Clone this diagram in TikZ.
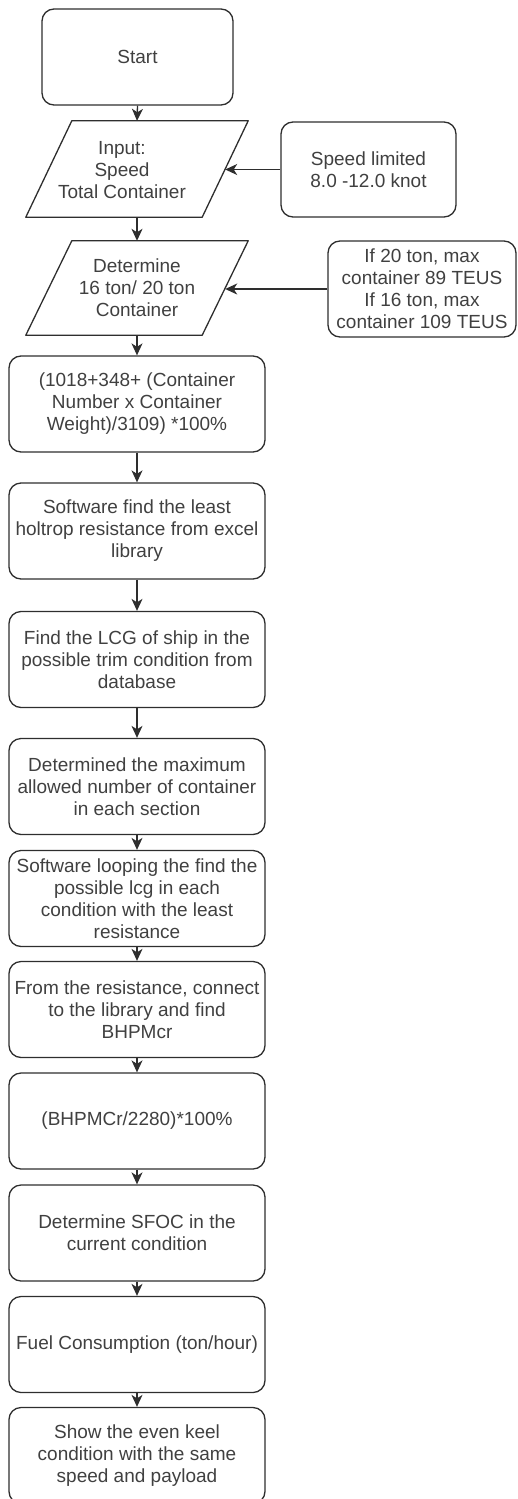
\documentclass[tikz,border=0pt]{standalone}
\usepackage{fontspec}
\setmainfont{Liberation Sans}
\usetikzlibrary{arrows.meta}
\definecolor{linec}{gray}{0.18}
\definecolor{txtc}{gray}{0.25}
\begin{document}
\begin{tikzpicture}[x=1pt,y=-1pt,
  every node/.style={font=\fontsize{19}{22}\selectfont, text=txtc, align=center, inner sep=0pt},
  stepbox/.style={draw=linec, line width=1.3pt, rounded corners=12pt, minimum width=256pt, minimum height=96pt},
  notebox/.style={draw=linec, line width=1.3pt, rounded corners=12pt, minimum height=96pt},
  parabox/.style={minimum width=176pt, minimum height=96pt},
  paraline/.style={draw=linec, line width=1.3pt, line join=round},
  arr/.style={draw=linec, line width=1.3pt, -{Stealth[length=12pt,width=11pt,inset=3.5pt]}},
]
\useasboundingbox (0,0) rectangle (517,1499);

% start
\node[notebox, minimum width=191pt] (start) at (137.5,57) {Start};

% input parallelogram
\node[parabox] (input) at (137,169) {};
\draw[paraline] ([xshift=23pt]input.north west) -- ([xshift=23pt]input.north east)
  -- ([xshift=-23pt]input.south east) -- ([xshift=-23pt]input.south west) -- cycle;
\node (inputtext) at (122,170) {Input:\\Speed\\Total Container};

% speed note
\node[notebox, minimum width=175pt, minimum height=95pt] (speed) at (368.5,169.5) {Speed limited\\8.0 -12.0 knot};

% determine parallelogram
\node[parabox, minimum height=94pt] (det) at (137,288) {Determine\\16 ton/ 20 ton\\Container};
\draw[paraline] ([xshift=23pt]det.north west) -- ([xshift=23pt]det.north east)
  -- ([xshift=-23pt]det.south east) -- ([xshift=-23pt]det.south west) -- cycle;

% ton note
\node[notebox, minimum width=188pt] (ton) at (422,289) {If 20 ton, max\\container 89 TEUS\\If 16 ton, max\\container 109 TEUS};

% process boxes
\node[stepbox] (b1) at (137,404) {(1018+348+ (Container\\Number x Container\\Weight)/3109) *100\%};
\node[stepbox] (b2) at (137,531) {Software find the least\\holtrop resistance from excel\\library};
\node[stepbox] (b3) at (137,659.5) {Find the LCG of ship in the\\possible trim condition from\\database};
\node[stepbox] (b4) at (137,786.5) {Determined the maximum\\allowed number of container\\in each section};
\node[stepbox] (b5) at (137,898.5) {Software looping the find the\\possible lcg in each\\condition with the least\\resistance};
\node[stepbox] (b6) at (137,1009.5) {From the resistance, connect\\to the library and find\\BHPMcr};
\node[stepbox] (b7) at (137,1121) {(BHPMCr/2280)*100\%};
\node[stepbox] (b8) at (137,1233) {Determine SFOC in the\\current condition};
\node[stepbox] (b9) at (137,1344.5) {Fuel Consumption (ton/hour)};
\node[stepbox] (b10) at (137,1455.5) {Show the even keel\\condition with the same\\speed and payload};

% connectors
\draw[arr] (start.south) -- (input.north);
\draw[arr] (input.south) -- (det.north);
\draw[arr] (det.south) -- (b1.north);
\draw[arr] (speed.west) -- (speed.west -| input.east);
\draw[arr] (ton.west) -- (ton.west -| det.east);
\draw[arr] (b1.south) -- (b2.north);
\draw[arr] (b2.south) -- (b3.north);
\draw[arr] (b3.south) -- (b4.north);
\draw[arr] (b4.south) -- (b5.north);
\draw[arr] (b5.south) -- (b6.north);
\draw[arr] (b6.south) -- (b7.north);
\draw[arr] (b7.south) -- (b8.north);
\draw[arr] (b8.south) -- (b9.north);
\draw[arr] (b9.south) -- (b10.north);
\end{tikzpicture}
\end{document}
